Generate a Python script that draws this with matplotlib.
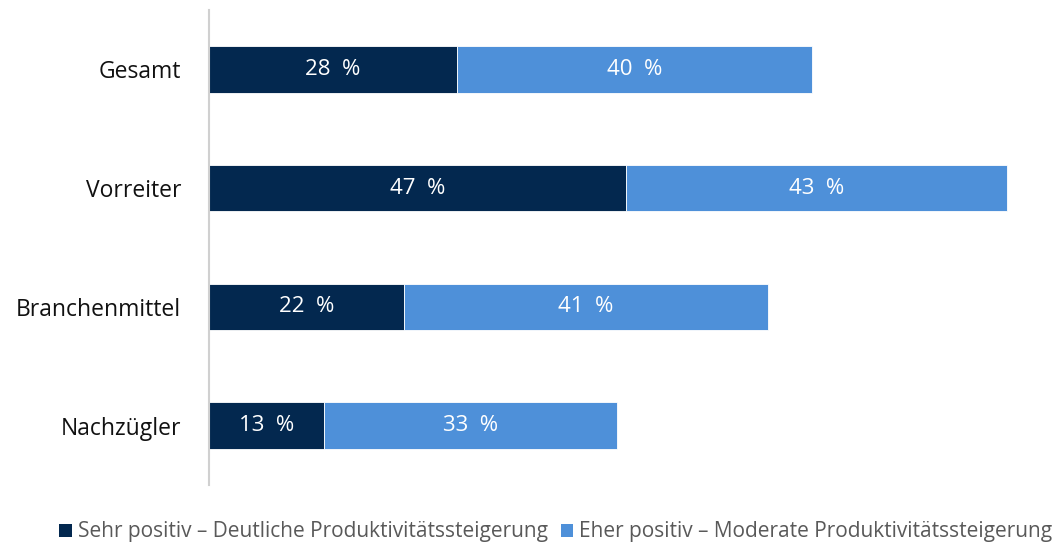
import matplotlib
matplotlib.use("Agg")
import matplotlib.pyplot as plt
from matplotlib.patches import Patch

plt.rcParams['font.family'] = ['Open Sans', 'DejaVu Sans']

categories = ["Gesamt", "Vorreiter", "Branchenmittel", "Nachzügler"]
sehr_positiv = [28, 47, 22, 13]
eher_positiv = [40, 43, 41, 33]
series_names = ["Sehr positiv – Deutliche Produktivitätssteigerung",
                "Eher positiv – Moderate Produktivitätssteigerung"]

dark = "#03284F"
light = "#4E90D9"

fig = plt.figure(figsize=(10.62, 5.46), dpi=100)
ax = fig.add_axes([209 / 1062, 1 - 485 / 546, (1040 - 209) / 1062, 475 / 546])

y = list(range(len(categories)))
h = 0.39
ax.barh(y, sehr_positiv, height=h, color=dark, edgecolor="white", linewidth=0.6)
ax.barh(y, eher_positiv, left=sehr_positiv, height=h, color=light,
        edgecolor="white", linewidth=0.6)

for i in y:
    ax.text(sehr_positiv[i] / 2, i, f"{sehr_positiv[i]}  %", ha="center", va="center",
            color="white", fontsize=16)
    ax.text(sehr_positiv[i] + eher_positiv[i] / 2, i, f"{eher_positiv[i]}  %",
            ha="center", va="center", color="white", fontsize=16)

ax.set_xlim(0, 93.7)
ax.set_ylim(3.5, -0.5)
ax.set_yticks(y)
ax.set_yticklabels(categories, fontsize=16.5, color="#111111")
ax.tick_params(axis="y", length=0, pad=20)
ax.set_xticks([])
for s in ["top", "right", "bottom"]:
    ax.spines[s].set_visible(False)
ax.spines["left"].set_color("#D0D0D0")
ax.spines["left"].set_linewidth(1.5)

handles = [Patch(facecolor=dark), Patch(facecolor=light)]
fig.legend(handles, series_names, loc="center", bbox_to_anchor=(556 / 1062, 1 - 532 / 546),
           ncol=2, frameon=False, fontsize=15, handlelength=0.6, handleheight=0.6,
           handletextpad=0.3, columnspacing=0.6, labelcolor="#595959", borderpad=0)

fig.savefig("out.png", dpi=100)
